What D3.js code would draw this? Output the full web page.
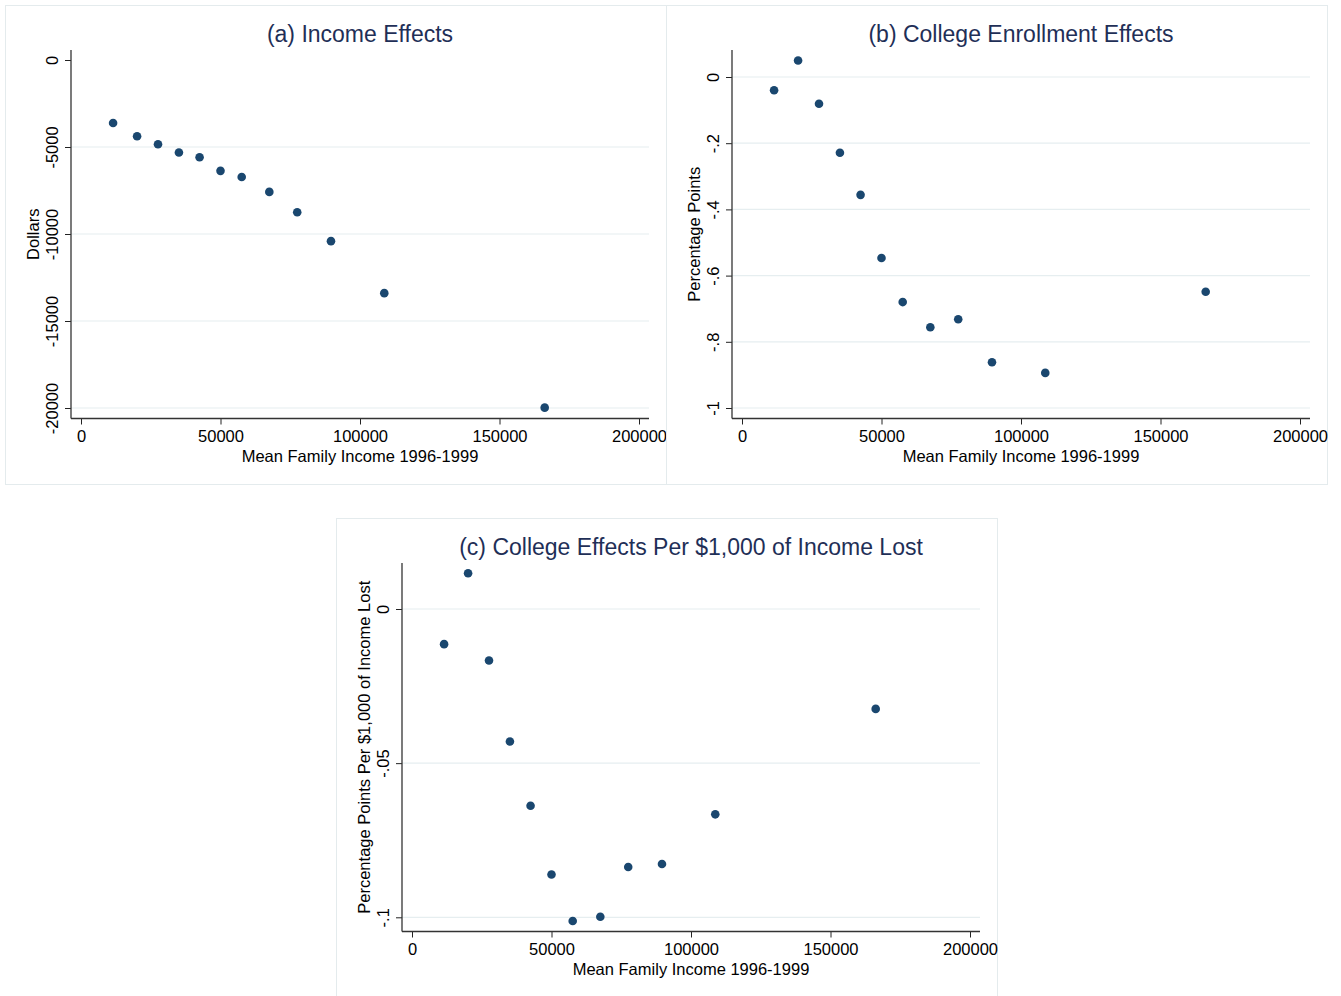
<!DOCTYPE html>
<html>
<head>
<meta charset="utf-8">
<script src="https://cdn.jsdelivr.net/npm/d3@7"></script>
<style>
	body{margin:0;background:#fff;}
	svg text{font-family:"Liberation Sans",Arial,Helvetica,sans-serif;}
</style>
</head>
<body>
<div id="chart"></div>
<script>
// mean family income of each group (x), shared by all three panels
var meanIncome = [11500, 20100, 27600, 35100, 42500, 50000, 57600, 67500, 77500, 89600, 108700, 166200];
// (a) income effects, dollars
var incomeEffect = [-3620, -4380, -4840, -5320, -5590, -6370, -6720, -7580, -8750, -10410, -13400, -19980];
// (b) college enrollment effects, percentage points
var enrollEffect = [-0.040, 0.050, -0.081, -0.229, -0.356, -0.547, -0.680, -0.756, -0.732, -0.862, -0.894, -0.649];
// (c) college effects per $1,000 of income lost
var perThousandEffect = [-0.0114, 0.0116, -0.0167, -0.0430, -0.0638, -0.0861, -0.1012, -0.0998, -0.0837, -0.0827, -0.0666, -0.0324];

var xTicks = [0, 50000, 100000, 150000, 200000];
var yTicksA = [0, -5000, -10000, -15000, -20000];
var yLabelsA = ["0", "-5000", "-10000", "-15000", "-20000"];
var yTicksB = [0, -0.2, -0.4, -0.6, -0.8, -1];
var yLabelsB = ["0", "-.2", "-.4", "-.6", "-.8", "-1"];
var yTicksC = [0, -0.05, -0.1];
var yLabelsC = ["0", "-.05", "-.1"];

var xTitle = "Mean Family Income 1996-1999";

var W = 1341, H = 996;
var PW = 661, PH = 479;
var markerColor = "#1a476f", titleColor = "#1f2f57", gridColor = "#e6eef0", borderColor = "#e4ebed";

var svg = d3.select("#chart").append("svg").attr("width", W).attr("height", H);
svg.append("rect").attr("width", W).attr("height", H).attr("fill", "#fff");

var panels = [
	{left:5, top:5, title:"(a) Income Effects", yTitle:"Dollars", y:incomeEffect, ticks:yTicksA, labels:yLabelsA, y0:55, y1:403, skipTopGrid:true},
	{left:666, top:5, title:"(b) College Enrollment Effects", yTitle:"Percentage Points", y:enrollEffect, ticks:yTicksB, labels:yLabelsB, y0:72, y1:403, skipTopGrid:false},
	{left:336, top:518, title:"(c) College Effects Per $1,000 of Income Lost", yTitle:"Percentage Points Per $1,000 of Income Lost", y:perThousandEffect, ticks:yTicksC, labels:yLabelsC, y0:91, y1:399.3, skipTopGrid:false}
];

panels.forEach(function(p){
	var g = svg.append("g").attr("transform", "translate(" + p.left + "," + p.top + ")");
	g.append("rect").attr("x", 0.5).attr("y", 0.5).attr("width", PW).attr("height", PH)
		.attr("fill", "#fff").attr("stroke", borderColor).attr("stroke-width", 1);

	var axisX = 66, plotRight = 644, plotTop = 45, plotBottom = 413.5;
	var x = d3.scaleLinear().domain([0, 200000]).range([76, 634]);
	var y = d3.scaleLinear().domain([p.ticks[0], p.ticks[p.ticks.length - 1]]).range([p.y0, p.y1]);

	// gridlines
	g.selectAll(".grid").data(p.ticks.filter(function(t, i){ return !(p.skipTopGrid && i == 0); }))
		.enter().append("line").attr("class", "grid")
		.attr("x1", axisX).attr("x2", plotRight)
		.attr("y1", function(d){ return y(d); }).attr("y2", function(d){ return y(d); })
		.attr("stroke", gridColor).attr("stroke-width", 1.2);

	// x axis
	var xa = g.append("g").attr("transform", "translate(0," + plotBottom + ")")
		.call(d3.axisBottom(x).tickValues(xTicks).tickFormat(d3.format("d")).tickSize(6).tickPadding(4));
	xa.select(".domain").remove();
	xa.selectAll("line").attr("stroke", "#222");
	xa.selectAll("text").attr("font-size", "16.5px").attr("fill", "#000").attr("dy", null).attr("y", 23.5);
	g.append("line").attr("x1", axisX).attr("x2", plotRight).attr("y1", plotBottom).attr("y2", plotBottom)
		.attr("stroke", "#333").attr("stroke-width", 1.3);

	// y axis
	var ya = g.append("g").attr("transform", "translate(" + axisX + ",0)")
		.call(d3.axisLeft(y).tickValues(p.ticks).tickFormat(function(d, i){ return p.labels[i]; }).tickSize(6));
	ya.select(".domain").remove();
	ya.selectAll("line").attr("stroke", "#222");
	ya.selectAll("text").attr("font-size", "16.5px").attr("fill", "#000")
		.attr("x", null).attr("dy", null).attr("text-anchor", "middle")
		.attr("transform", "translate(-13.5,0) rotate(-90)");
	g.append("line").attr("x1", axisX).attr("x2", axisX).attr("y1", plotTop).attr("y2", plotBottom)
		.attr("stroke", "#333").attr("stroke-width", 1.3);

	// titles
	g.append("text").attr("x", x(100000)).attr("y", 37).attr("text-anchor", "middle")
		.attr("font-size", "23px").attr("fill", titleColor).text(p.title);
	g.append("text").attr("x", x(100000)).attr("y", 456.5).attr("text-anchor", "middle")
		.attr("font-size", "16.5px").attr("fill", "#000").text(xTitle);
	g.append("text").attr("text-anchor", "middle").attr("font-size", "16.5px").attr("fill", "#000")
		.attr("transform", "translate(34," + ((plotTop + plotBottom) / 2) + ") rotate(-90)").text(p.yTitle);

	// markers
	g.selectAll(".dot").data(meanIncome).enter().append("circle").attr("class", "dot")
		.attr("cx", function(d){ return x(d); })
		.attr("cy", function(d, i){ return y(p.y[i]); })
		.attr("r", 4.3).attr("fill", markerColor);
});
</script>
</body>
</html>
